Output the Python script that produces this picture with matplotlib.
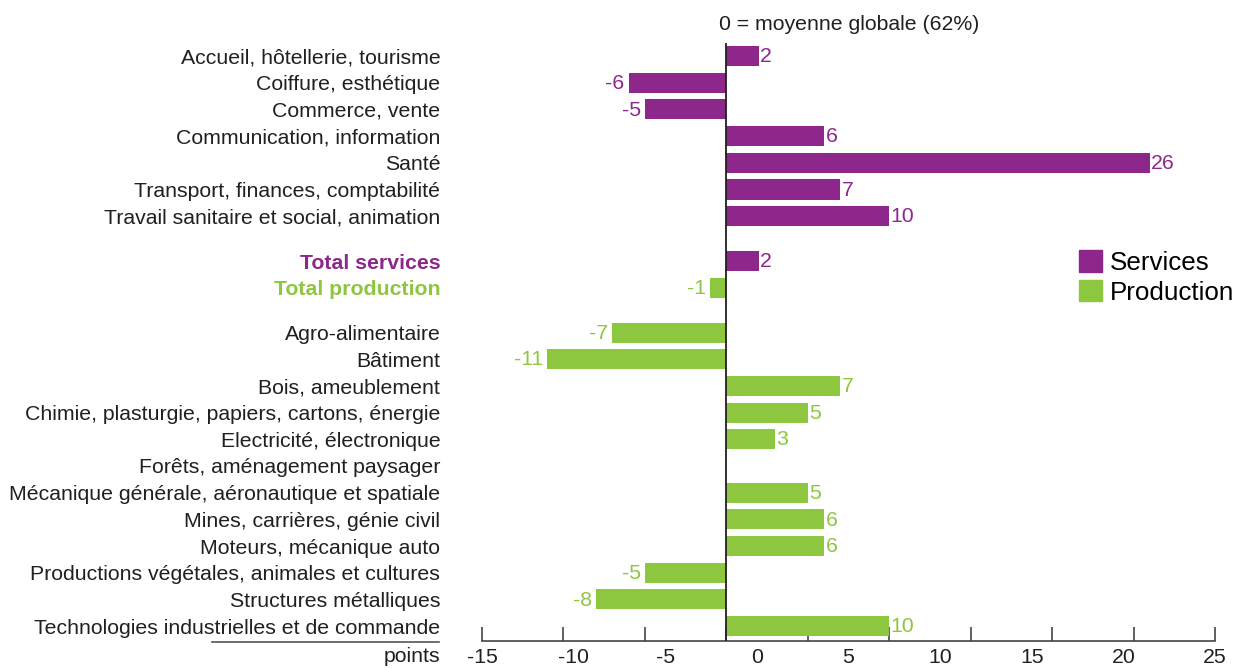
import numpy as np
import matplotlib.pyplot as plt
from matplotlib.patches import Patch
from matplotlib.lines import Line2D

plt.rcParams['font.family'] = ['Liberation Sans', 'DejaVu Sans']

services = ['Accueil, hôtellerie, tourisme', 'Coiffure, esthétique', 'Commerce, vente',
            'Communication, information', 'Santé', 'Transport, finances, comptabilité',
            'Travail sanitaire et social, animation']
services_val = [2, -6, -5, 6, 26, 7, 10]

totals = ['Total services', 'Total production']
totals_val = [2, -1]

production = ['Agro-alimentaire', 'Bâtiment', 'Bois, ameublement',
              'Chimie, plasturgie, papiers, cartons, énergie', 'Electricité, électronique',
              'Forêts, aménagement paysager', 'Mécanique générale, aéronautique et spatiale',
              'Mines, carrières, génie civil', 'Moteurs, mécanique auto',
              'Productions végétales, animales et cultures', 'Structures métalliques',
              'Technologies industrielles et de commande']
production_val = [-7, -11, 7, 5, 3, np.nan, 5, 6, 6, -5, -8, 10]

tick_labels = ['-15', '-10', '-5', '0', '5', '10', '15', '20', '25']

PURPLE = '#8E278C'
GREEN = '#8DC63F'
DARK = '#231F20'
FS = 15.3

# row layout: services block, gap, totals, gap, production block
y_serv = np.arange(len(services))
y_tot = y_serv[-1] + 1.68 + np.arange(len(totals))
y_prod = y_tot[-1] + 1.68 + np.arange(len(production))

fig = plt.figure(figsize=(12.38, 6.68), dpi=100)
ax = fig.add_axes([482 / 1238, 27 / 668, 733 / 1238, 598 / 668])

def bars(y, vals, color):
    vals = np.asarray(vals, dtype=float)
    ax.barh(y, np.nan_to_num(vals), height=0.75, color=color, zorder=2)
    for yy, v in zip(y, vals):
        if np.isnan(v):
            continue
        if v >= 0:
            ax.annotate(f'{v:.0f}', (v, yy), xytext=(1, -0.5), textcoords='offset points',
                        ha='left', va='center', color=color, fontsize=FS)
        else:
            ax.annotate(f'{v:.0f}', (v, yy), xytext=(-3, -0.5), textcoords='offset points',
                        ha='right', va='center', color=color, fontsize=FS)

bars(y_serv, services_val, PURPLE)
bars(y_tot[:1], totals_val[:1], PURPLE)
bars(y_tot[1:], totals_val[1:], GREEN)
bars(y_prod, production_val, GREEN)

ax.set_xlim(-15, 30)
ax.set_ylim(y_prod[-1] + 0.56, -0.49)
ax.axvline(0, color=DARK, lw=1.3, zorder=3)

# category labels on the y axis
yt = np.concatenate([y_serv, y_tot, y_prod])
ax.set_yticks(yt, labels=services + totals + production)
ax.tick_params(axis='y', length=0, pad=30, labelsize=FS, labelcolor=DARK)
for lab, col in zip(ax.get_yticklabels()[len(services):len(services) + 2], [PURPLE, GREEN]):
    lab.set_color(col)
    lab.set_fontweight('bold')

# tick marks every 5 points, labels spread evenly along the axis
ax.xaxis.remove_overlapping_locs = False
ax.set_xticks(np.arange(-15, 31, 5), labels=[])
ax.tick_params(axis='x', which='major', direction='in', length=10, width=1.2, color='#444444')
ax.set_xticks(np.linspace(-15, 30, len(tick_labels)), labels=tick_labels, minor=True)
ax.tick_params(axis='x', which='minor', length=0, pad=5, labelsize=FS, labelcolor=DARK)

for s in ['top', 'right', 'left']:
    ax.spines[s].set_visible(False)
ax.spines['bottom'].set_color('#444444')
ax.spines['bottom'].set_linewidth(1.2)

fig.text(440 / 1238, 1 - 657 / 668, 'points', ha='right', va='center', fontsize=FS, color=DARK)
fig.add_artist(Line2D([212 / 1238, 439 / 1238], [1 - 642 / 668] * 2, color='#555555', lw=1.2))

ax.annotate('0 = moyenne globale (62%)', (0, 1), xycoords=('data', 'axes fraction'),
            xytext=(-5, 6.5), textcoords='offset points', ha='left', va='bottom',
            fontsize=FS, color=DARK)

handles = [Patch(color=PURPLE, label='Services'), Patch(color=GREEN, label='Production')]
fig.legend(handles=handles, loc='upper left', bbox_to_anchor=(1079 / 1238, 1 - 250 / 668),
           frameon=False, fontsize=18.7, handlelength=0.9, handleheight=0.9,
           handletextpad=0.3, labelspacing=0.2, borderpad=0, borderaxespad=0)

fig.savefig('out.png', dpi=100)
